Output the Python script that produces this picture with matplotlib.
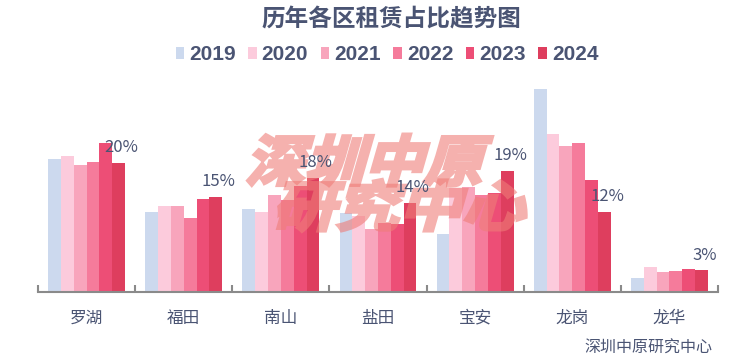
import matplotlib
matplotlib.use("Agg")
import matplotlib.pyplot as plt
import numpy as np
from matplotlib.patches import Patch, PathPatch
from matplotlib.textpath import TextPath
from matplotlib.font_manager import FontProperties
from matplotlib.transforms import Affine2D, IdentityTransform

plt.rcParams['font.family'] = ['Noto Sans CJK SC', 'DejaVu Sans']

districts = ["罗湖", "福田", "南山", "盐田", "宝安", "龙岗", "龙华"]
years = ["2019", "2020", "2021", "2022", "2023", "2024"]
v2019 = [20.7, 12.4, 12.8, 12.3, 8.9, 31.6, 2.1]
v2020 = [21.1, 13.3, 12.4, 11.8, 16.2, 24.6, 3.8]
v2021 = [19.7, 13.4, 15.0, 9.7, 16.3, 22.7, 3.1]
v2022 = [20.1, 11.4, 14.3, 10.7, 15.1, 23.2, 3.2]
v2023 = [23.2, 14.4, 16.5, 10.5, 15.3, 17.4, 3.5]
v2024 = [20.0, 14.7, 17.7, 13.8, 18.8, 12.4, 3.3]
series = [v2019, v2020, v2021, v2022, v2023, v2024]
colors = ["#ccd9ee", "#fccbdc", "#f8a5bc", "#f57b9b", "#ed4e76", "#de3e5e"]
title = "历年各区租赁占比趋势图"
source = "深圳中原研究中心"
watermark_lines = ["深圳中原", "研究中心"]

TXT = "#4a5473"
W, H = 740, 360
fig = plt.figure(figsize=(W / 100, H / 100), dpi=100)
ax = fig.add_axes([38 / W, (H - 291.7) / H, 680 / W, (291.7 - 79.5) / H])

x = np.arange(len(districts))
bw = 0.132
for i, (vals, c) in enumerate(zip(series, colors)):
    ax.bar(x + (i - 2.5) * bw, vals, width=bw, color=c, label=years[i], zorder=2)

# labels for 2024
for xi, v in zip(x, v2024):
    ax.annotate(f"{v:.0f}%", (xi + 2.5 * bw, v), xytext=(2, 5), textcoords="offset points",
                ha="center", va="bottom", fontsize=12, color=TXT,
                family=['Noto Sans CJK SC', 'DejaVu Sans'], zorder=6)

ax.set_xlim(-0.5, len(districts) - 0.5)
ax.set_ylim(0, 33)
ax.set_yticks([])
for s in ["top", "right", "left"]:
    ax.spines[s].set_visible(False)
ax.spines["bottom"].set_color("#8a8a8a")
ax.spines["bottom"].set_linewidth(1.5)
ax.set_xticks(np.arange(-0.5, len(districts)), minor=False)
ax.set_xticklabels([])
ax.tick_params(axis="x", which="major", direction="in", length=5, width=1.5, color="#8a8a8a")
ax.set_xticks(x, minor=True)
ax.set_xticklabels(districts, minor=True, fontsize=12, color=TXT)
ax.tick_params(axis="x", which="minor", length=0, pad=13)

fig.text(391 / W, 1 - 19 / H, title, ha="center", va="center", fontsize=17,
         fontweight="bold", color=TXT)

handles = [Patch(facecolor=c, edgecolor="none") for c in colors]
leg = fig.legend(handles, years, loc="center", bbox_to_anchor=(387 / W, 1 - 55 / H), ncol=6,
                 frameon=False, prop=FontProperties(family="Liberation Sans", weight="bold", size=15),
                 handlelength=0.4, handleheight=0.55, handletextpad=0.25, columnspacing=0.6,
                 borderpad=0, borderaxespad=0)
for t in leg.get_texts():
    t.set_color(TXT)

fig.text(712 / W, 1 - 348.5 / H, source, ha="right", va="center", fontsize=11.5,
         color=TXT, fontweight="medium")


# watermark (opaque shape, alpha applied to the whole layer)
def fade(img, dpi):
    img = img.copy()
    img[..., 3] *= 0.6
    return img, 0, 0

wm_prop = FontProperties(family="Noto Sans CJK SC", weight="bold")
def watermark(s, x0, y0, size, sx):
    tp = TextPath((0, 0), s, prop=wm_prop, size=size)
    tr = Affine2D().scale(sx, 1.0).skew_deg(16, 0).translate(x0, H - y0)
    p = PathPatch(tr.transform_path(tp), transform=IdentityTransform(), facecolor="#ef7d78",
                  edgecolor="#ef7d78", linewidth=2.5, joinstyle="miter", zorder=4,
                  clip_on=False)
    p.set_agg_filter(fade)
    ax.add_artist(p)

watermark(watermark_lines[0], 245, 181, 55, 1.08)
watermark(watermark_lines[1], 272, 226, 54, 1.17)

fig.savefig("out.png", dpi=100)
